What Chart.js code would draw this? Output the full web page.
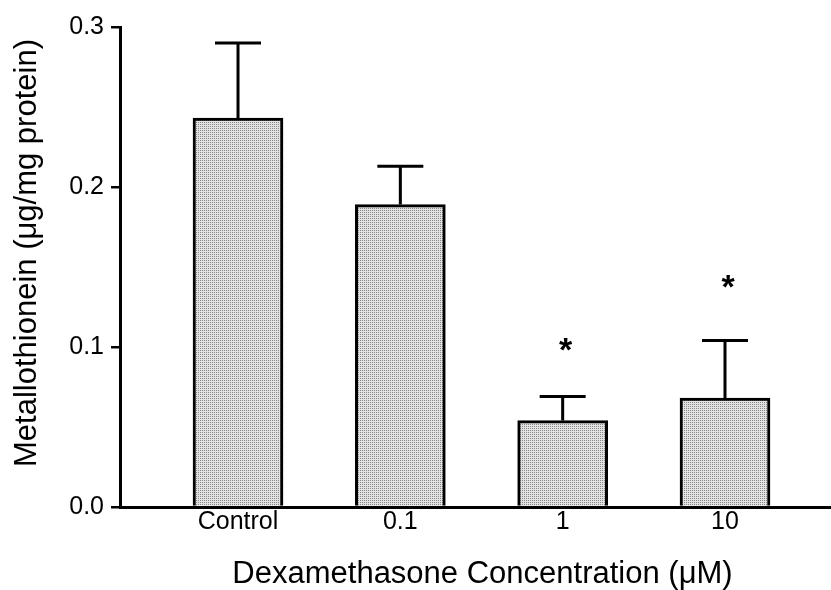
<!DOCTYPE html>
<html>
<head>
<meta charset="utf-8">
<script src="https://cdn.jsdelivr.net/npm/chart.js@4/dist/chart.umd.min.js"></script>
<style>
html,body{margin:0;padding:0;background:#fff;}
#wrap{width:831px;height:590px;}
</style>
</head>
<body>
<div id="wrap"><canvas id="c" width="831" height="590"></canvas></div>
<script>
const categories = ["Control", "0.1", "1", "10"];
const meanValues = [0.243, 0.189, 0.054, 0.068];
const semValues = [0.047, 0.024, 0.015, 0.036];
const significanceY = [null, null, 0.100, 0.139];
const yTicks = [0.0, 0.1, 0.2, 0.3];
const xTitle = "Dexamethasone Concentration (\u03bcM)";
const yTitle = "Metallothionein (\u03bcg/mg protein)";

const FONT = "'Liberation Sans', Arial, Helvetica, sans-serif";

function makePattern() {
  const p = document.createElement('canvas');
  p.width = 2; p.height = 2;
  const c = p.getContext('2d');
  c.fillStyle = '#e2e2e2';
  c.fillRect(0, 0, 2, 2);
  c.fillStyle = '#888888';
  c.fillRect(0, 0, 1, 1);
  return document.getElementById('c').getContext('2d').createPattern(p, 'repeat');
}

const errorBars = {
  id: 'errorBars',
  afterDatasetsDraw(chart) {
    const ctx = chart.ctx;
    const xs = chart.scales.x, ys = chart.scales.y;
    const area = chart.chartArea;
    ctx.save();
    ctx.strokeStyle = '#000';
    ctx.lineWidth = 3;
    ctx.lineCap = 'butt';
    meanValues.forEach((m, i) => {
      const x = xs.getPixelForValue(i);
      const y0 = ys.getPixelForValue(m);
      const y1 = ys.getPixelForValue(m + semValues[i]);
      ctx.beginPath();
      ctx.moveTo(x, y0);
      ctx.lineTo(x, y1);
      ctx.moveTo(x - 23, y1);
      ctx.lineTo(x + 23, y1);
      ctx.stroke();
    });
    ctx.fillStyle = '#000';
    ctx.font = "bold 34px " + FONT;
    ctx.textAlign = 'center';
    ctx.textBaseline = 'alphabetic';
    significanceY.forEach((v, i) => {
      if (v === null) return;
      const x = xs.getPixelForValue(i) + 3;
      const y = ys.getPixelForValue(v);
      ctx.fillText('*', x, y + 0.40 * 34);
    });
    // axis titles
    ctx.font = "31px " + FONT;
    ctx.textAlign = 'center';
    ctx.textBaseline = 'middle';
    ctx.fillText(xTitle, (area.left + area.right) / 2 + 7, 574);
    ctx.save();
    ctx.translate(27, (area.top + area.bottom) / 2 - 14);
    ctx.rotate(-Math.PI / 2);
    ctx.fillText(yTitle, 0, 0);
    ctx.restore();
    ctx.restore();
  }
};

new Chart(document.getElementById('c'), {
  type: 'bar',
  data: {
    datasets: [{
      data: meanValues.map((v, i) => ({x: i, y: v})),
      backgroundColor: makePattern(),
      borderColor: '#000',
      borderWidth: 3,
      borderSkipped: 'bottom',
      barThickness: 90
    }]
  },
  options: {
    responsive: false,
    animation: false,
    events: [],
    layout: {padding: {top: 27, right: 0, bottom: 0, left: 0}},
    plugins: {legend: {display: false}, tooltip: {enabled: false}},
    scales: {
      x: {
        type: 'linear',
        offset: false,
        min: -0.727,
        max: 3.653,
        grid: {display: false, drawTicks: false, offset: false},
        border: {display: true, color: '#000', width: 3},
        afterBuildTicks(scale) {
          scale.ticks = categories.map((c, i) => ({value: i}));
        },
        ticks: {
          color: '#000',
          font: {family: FONT, size: 25},
          padding: 0,
          maxRotation: 0,
          autoSkip: false,
          callback: (v) => categories[v]
        },
        title: {display: false},
        afterFit(scale) { scale.height = 83; }
      },
      y: {
        type: 'linear',
        min: 0,
        max: 0.3,
        grid: {drawOnChartArea: false, drawTicks: true, tickLength: 9, color: '#000', lineWidth: 2.5},
        border: {display: true, color: '#000', width: 3},
        afterBuildTicks(scale) {
          scale.ticks = yTicks.map(v => ({value: v}));
        },
        ticks: {
          color: '#000',
          font: {family: FONT, size: 25},
          padding: 7,
          callback: (v) => Number(v).toFixed(1)
        },
        title: {display: false},
        afterFit(scale) { scale.width = 120; }
      }
    }
  },
  plugins: [errorBars]
});
</script>
</body>
</html>
